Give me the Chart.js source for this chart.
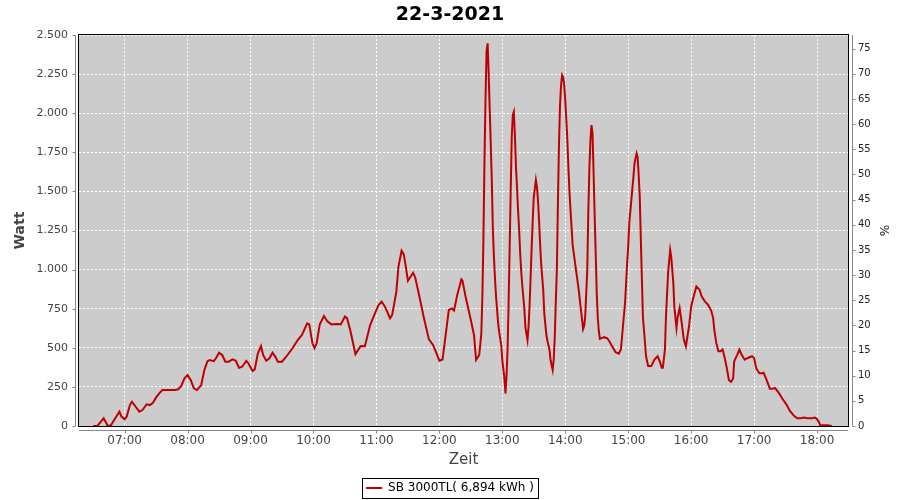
<!DOCTYPE html>
<html>
<head>
<meta charset="utf-8">
<script src="https://cdn.jsdelivr.net/npm/chart.js@4"></script>
<style>
  html, body { margin: 0; padding: 0; background: #ffffff; }
  canvas { display: block; }
</style>
</head>
<body>
<canvas id="c" width="900" height="500"></canvas>
<script>
// ---- data ----
const chartTitle = "22-3-2021";
const seriesLabel = "SB 3000TL( 6,894 kWh )";
const times = [
  "06:30","06:34","06:40","06:44","06:47","06:50","06:55","06:57","07:00","07:02",
  "07:05","07:07","07:10","07:14","07:17","07:21","07:24","07:27","07:30","07:33",
  "07:36","07:48","07:51","07:54","07:57","08:00","08:03","08:06","08:09","08:13",
  "08:16","08:19","08:21","08:25","08:27","08:30","08:33","08:36","08:39","08:43",
  "08:46","08:49","08:52","08:56","08:58","09:02","09:04","09:07","09:10","09:12",
  "09:15","09:18","09:21","09:24","09:26","09:30","09:34","09:40","09:45","09:49",
  "09:54","09:56","09:59","10:01","10:03","10:06","10:10","10:13","10:17","10:23",
  "10:26","10:30","10:32","10:35","10:40","10:45","10:49","10:54","10:58","11:02",
  "11:05","11:08","11:13","11:15","11:19","11:21","11:24","11:26","11:28","11:30",
  "11:35","11:37","11:41","11:45","11:50","11:54","11:57","12:00","12:03","12:05",
  "12:09","12:12","12:14","12:17","12:21","12:22","12:25","12:30","12:33","12:35",
  "12:38","12:40","12:41","12:42","12:43","12:44","12:45","12:46","12:47","12:48",
  "12:49","12:50","12:51","12:52","12:53","12:54","12:56","12:57","12:59","13:00",
  "13:02","13:03","13:04","13:05","13:06","13:07","13:08","13:09","13:10","13:11",
  "13:12","13:13","13:14","13:15","13:16","13:17","13:18","13:19","13:21","13:22",
  "13:24","13:25","13:26","13:27","13:28","13:29","13:30","13:32","13:33","13:34",
  "13:35","13:36","13:37","13:39","13:40","13:42","13:43","13:45","13:46","13:48",
  "13:49","13:50","13:51","13:52","13:53","13:54","13:55","13:56","13:57","13:58",
  "13:59","14:00","14:01","14:02","14:03","14:04","14:05","14:06","14:07","14:09",
  "14:10","14:12","14:13","14:15","14:17","14:18","14:19","14:20","14:21","14:22",
  "14:23","14:24","14:25","14:26","14:27","14:28","14:29","14:30","14:31","14:32",
  "14:33","14:37","14:40","14:42","14:45","14:48","14:51","14:53","14:54","14:55",
  "14:57","14:58","14:59","15:00","15:01","15:03","15:05","15:06","15:08","15:09",
  "15:10","15:11","15:12","15:13","15:14","15:16","15:17","15:19","15:22","15:25",
  "15:28","15:30","15:32","15:33","15:35","15:36","15:38","15:40","15:41","15:43",
  "15:44","15:46","15:47","15:49","15:51","15:53","15:55","15:58","16:00","16:02",
  "16:05","16:08","16:10","16:13","16:16","16:19","16:21","16:22","16:24","16:26",
  "16:28","16:30","16:32","16:34","16:36","16:38","16:40","16:41","16:44","16:46",
  "16:48","16:51","16:54","16:58","17:00","17:02","17:05","17:08","17:09","17:12",
  "17:15","17:18","17:20","17:24","17:27","17:31","17:34","17:38","17:41","17:45",
  "17:47","17:51","17:55","17:58","18:00","18:02","18:03","18:06","18:10","18:14"
];
const watts = [
  0,0,49,0,5,38,92,60,43,60,
  134,155,128,92,102,139,134,149,183,209,
  230,230,235,256,305,326,294,241,230,262,
  358,415,422,415,433,469,454,411,411,426,
  417,373,379,417,400,352,362,465,511,454,
  417,433,469,439,411,411,443,497,550,582,
  657,650,529,497,529,650,703,671,650,652,
  650,700,690,614,460,512,510,646,710,774,
  795,765,689,710,859,1019,1121,1100,1019,929,
  980,950,827,699,554,518,469,418,425,529,
  742,752,739,838,938,930,827,678,582,422,
  454,593,830,1200,1700,2100,2400,2447,2255,2020,
  1800,1560,1253,1083,944,830,657,600,518,420,
  305,209,320,486,784,1147,1509,1850,1990,2010,
  1860,1660,1530,1381,1260,1110,990,900,750,630,
  550,635,774,955,1147,1317,1466,1573,1530,1445,
  1317,1168,1040,870,720,582,545,486,420,358,
  426,571,800,1000,1424,1800,2050,2180,2244,2230,
  2180,2084,1960,1830,1650,1500,1380,1274,1160,1061,
  1010,912,860,740,620,640,700,850,1000,1380,
  1650,1830,1924,1870,1616,1350,1106,850,691,606,
  557,568,561,542,506,472,463,490,560,638,
  787,914,1042,1148,1297,1446,1595,1680,1743,1720,
  1600,1467,1200,950,700,531,446,383,383,425,
  446,415,372,372,489,700,978,1127,1084,914,
  760,627,691,755,659,553,510,638,765,818,
  893,872,829,797,776,740,690,617,530,478,
  478,489,435,370,293,283,304,413,457,489,
  457,424,435,446,435,370,337,337,341,293,
  239,239,243,207,174,135,98,65,50,50,
  54,50,50,54,43,22,4,4,4,0
];
const hourTicks = ["07:00","08:00","09:00","10:00","11:00","12:00","13:00","14:00","15:00","16:00","17:00","18:00"];
const wattTicks = [0,250,500,750,1000,1250,1500,1750,2000,2250,2500];
const percentTicks = [0,5,10,15,20,25,30,35,40,45,50,55,60,65,70,75];
const xRange = ["06:16:30","18:29:30"];
const percentMax = 77.7;

// ---- helpers ----
function toMin(s) {
  const p = s.split(":").map(Number);
  return p[0] * 60 + p[1] + (p[2] || 0) / 60;
}
function fmtTime(m) {
  const h = Math.floor(m / 60), mm = Math.round(m - h * 60);
  return String(h).padStart(2, "0") + ":" + String(mm).padStart(2, "0");
}
function fmtWatt(v) {
  if (v >= 1000) return Math.floor(v / 1000) + "." + String(v % 1000).padStart(3, "0");
  return String(v);
}
const points = times.map((t, i) => ({ x: toMin(t), y: watts[i] }));

const FONT = "'DejaVu Sans', sans-serif";

const framePlugin = {
  id: "frame",
  beforeDraw(chart) {
    const { ctx, chartArea: a } = chart;
    ctx.save();
    ctx.fillStyle = "#ffffff";
    ctx.fillRect(0, 0, chart.width, chart.height);
    ctx.fillStyle = "#cccccc";
    ctx.fillRect(a.left, a.top, a.right - a.left, a.bottom - a.top);
    ctx.restore();
  },
  afterDraw(chart) {
    const { ctx, chartArea: a, scales } = chart;
    ctx.save();
    // plot outline
    ctx.strokeStyle = "#000000";
    ctx.lineWidth = 1;
    ctx.strokeRect(Math.round(a.left) - 0.5, Math.round(a.top) - 0.5,
                   Math.round(a.right - a.left) + 1, Math.round(a.bottom - a.top) + 1);
    // offset axis lines
    ctx.strokeStyle = "#888888";
    ctx.beginPath();
    const lx = Math.round(a.left) - 3.5, rx = Math.round(a.right) + 4.5, by = Math.round(a.bottom) + 4.5;
    ctx.moveTo(lx, a.top); ctx.lineTo(lx, a.bottom);
    ctx.moveTo(rx, a.top); ctx.lineTo(rx, a.bottom);
    ctx.moveTo(a.left, by); ctx.lineTo(a.right, by);
    // tick marks
    scales.y.ticks.forEach(t => {
      const py = Math.round(scales.y.getPixelForValue(t.value)) + 0.5;
      ctx.moveTo(lx - 3, py); ctx.lineTo(lx, py);
    });
    scales.y1.ticks.forEach(t => {
      const py = Math.round(scales.y1.getPixelForValue(t.value)) + 0.5;
      ctx.moveTo(rx, py); ctx.lineTo(rx + 3, py);
    });
    scales.x.ticks.forEach(t => {
      const px = Math.round(scales.x.getPixelForValue(t.value)) + 0.5;
      ctx.moveTo(px, by); ctx.lineTo(px, by + 3);
    });
    ctx.stroke();
    // legend border
    const lg = chart.legend;
    if (lg && lg.legendHitBoxes && lg.legendHitBoxes.length) {
      const hb = lg.legendHitBoxes[0];
      ctx.strokeStyle = "#000000";
      ctx.strokeRect(Math.round(hb.left) - 3.5, Math.round(hb.top) - 3.5,
                     Math.round(hb.width) + 8, Math.round(hb.height) + 8);
    }
    ctx.restore();
  }
};

new Chart(document.getElementById("c"), {
  type: "line",
  data: {
    datasets: [{
      label: seriesLabel,
      data: points,
      borderColor: "#c00000",
      backgroundColor: "#c00000",
      borderWidth: 2,
      pointRadius: 0,
      tension: 0,
      fill: false,
      yAxisID: "y"
    }]
  },
  options: {
    responsive: false,
    animation: false,
    layout: { padding: 0 },
    plugins: {
      title: {
        display: true,
        text: chartTitle,
        color: "#000000",
        font: { family: FONT, size: 19, weight: "bold" },
        padding: { top: 4, bottom: 8.3 }
      },
      legend: {
        position: "bottom",
        maxHeight: 22,
        labels: {
          color: "#333333",
          font: { family: FONT, size: 12 },
          boxWidth: 16,
          boxHeight: 2,
          padding: 4,
          generateLabels: (chart) => [{
            text: seriesLabel,
            fillStyle: "#c00000",
            strokeStyle: "#c00000",
            lineWidth: 0,
            datasetIndex: 0,
            hidden: false
          }]
        }
      },
      tooltip: { enabled: false }
    },
    scales: {
      x: {
        type: "linear",
        min: toMin(xRange[0]),
        max: toMin(xRange[1]),
        afterBuildTicks: (s) => { s.ticks = hourTicks.map(h => ({ value: toMin(h) })); },
        afterFit: (s) => { s.height = 52; },
        ticks: {
          callback: (v) => fmtTime(v),
          color: "#444444",
          font: { family: FONT, size: 12 },
          padding: 8,
          maxRotation: 0,
          autoSkip: false
        },
        grid: { color: "#ffffff", lineWidth: 1, drawTicks: false },
        border: { display: false, dash: [2, 2] },
        title: {
          display: true,
          text: "Zeit",
          color: "#444444",
          font: { family: FONT, size: 15 },
          padding: { top: 0, bottom: 9 }
        }
      },
      y: {
        type: "linear",
        position: "left",
        min: 0,
        max: 2500,
        afterBuildTicks: (s) => { s.ticks = wattTicks.map(v => ({ value: v })); },
        afterFit: (s) => { s.width = 79; },
        ticks: {
          callback: (v) => fmtWatt(v),
          color: "#444444",
          font: { family: FONT, size: 11 },
          padding: 11
        },
        grid: { color: "#ffffff", lineWidth: 1, drawTicks: false },
        border: { display: false, dash: [2, 2] },
        title: {
          display: true,
          text: "Watt",
          color: "#444444",
          font: { family: FONT, size: 14, weight: "bold" },
          padding: { top: 12, bottom: 0 }
        }
      },
      y1: {
        type: "linear",
        position: "right",
        min: 0,
        max: percentMax,
        afterBuildTicks: (s) => { s.ticks = percentTicks.map(v => ({ value: v })); },
        afterFit: (s) => { s.width = 52; },
        ticks: {
          callback: (v) => String(v),
          color: "#222222",
          font: { family: FONT, size: 10 },
          padding: 10
        },
        grid: { drawOnChartArea: false, drawTicks: false },
        border: { display: false },
        title: {
          display: true,
          text: "%",
          color: "#222222",
          font: { family: FONT, size: 12 },
          padding: { top: 10, bottom: 0 }
        }
      }
    }
  },
  plugins: [framePlugin]
});
</script>
</body>
</html>
